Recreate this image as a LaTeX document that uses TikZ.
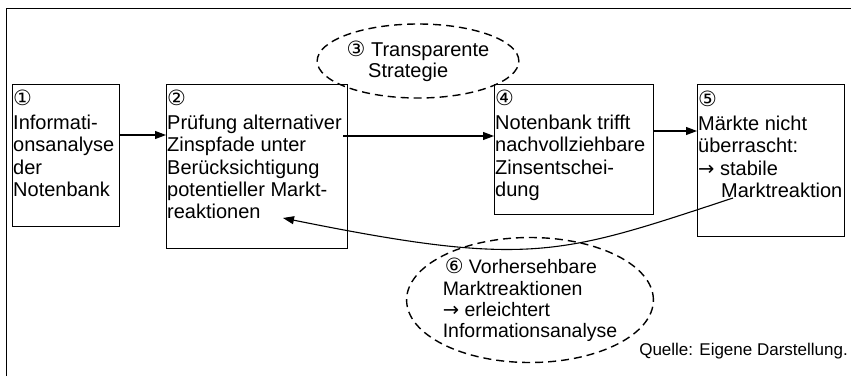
\documentclass[tikz,border=0pt]{standalone}
\usepackage{fontspec}
\setmainfont{Liberation Sans}
\newfontfamily\numfont{DejaVu Sans}
\usetikzlibrary{shapes.geometric,arrows.meta}
\newcommand{\cnum}[1]{{\numfont\fontsize{21}{21}\selectfont #1}}
\newcommand{\rarr}{{\numfont\fontsize{19.5}{19.5}\selectfont →}}
\begin{document}
\begin{tikzpicture}[x=1pt,y=-1pt,
  box/.style={draw, line width=1.1pt, inner sep=0pt, anchor=north west},
  txt/.style={anchor=north west, align=left, inner sep=0pt, font=\fontsize{20}{22.3}\selectfont},
  dashell/.style={draw, ellipse, dash pattern=on 8pt off 5pt, line width=1.4pt, inner sep=0pt, align=left},
  arr/.style={line width=1.1pt, -{Triangle[length=11pt,width=8pt]}},
]
\useasboundingbox (0,0) rectangle (851,376);
% outer frame (cropped at right and bottom)
\draw[line width=1.2pt] (6.5,376) -- (6.5,8.3) -- (851,8.3);

% boxes
\node[box, minimum width=107pt, minimum height=142pt] (b1) at (12,84) {};
\node[box, minimum width=181pt, minimum height=164pt] (b2) at (166,84) {};
\node[box, minimum width=159pt, minimum height=130pt] (b4) at (494,84) {};
\node[box, minimum width=147pt, minimum height=152pt] (b5) at (697,84) {};

% box texts
\node[txt] (t1) at ([shift={(1,5.5)}]b1.north west) {\cnum{①}\\[2pt]Informati-\\onsanalyse\\der\\Notenbank};
\node[txt] (t2) at ([shift={(1,5.5)}]b2.north west) {\cnum{②}\\[2pt]Prüfung alternativer\\Zinspfade unter\\Berücksichtigung\\potentieller Markt-\\reaktionen};
\node[txt] (t4) at ([shift={(1,5.5)}]b4.north west) {\cnum{④}\\[2pt]Notenbank trifft\\nachvollziehbare\\Zinsentschei-\\dung};
\node[txt] (t5) at ([shift={(1,6.5)}]b5.north west) {\cnum{⑤}\\[2pt]Märkte nicht\\überrascht:\\\rarr\ stabile\\\hspace*{23pt}Marktreaktion};

% ellipses
\node[dashell, minimum width=168pt, minimum height=74pt, font=\fontsize{20}{21}\selectfont] (e3) at (418,61)
  {\cnum{③} Transparente\\\hspace*{21.5pt}Strategie};
\node[dashell, minimum width=221pt, minimum height=125pt, font=\fontsize{19.5}{21.3}\selectfont] (e6) at (530,300)
  {\hspace*{2pt}\cnum{⑥} Vorhersehbare\\Marktreaktionen\\\rarr\ erleichtert\\Informationsanalyse};

% source
\node[anchor=base east, inner sep=0pt, font=\fontsize{17}{20}\selectfont] (q) at (848,355) {Quelle: Eigene Darstellung.};

% connectors
\draw[arr] ([shift={(0,51)}]b1.north east) -- ([shift={(0,51)}]b2.north west);
\draw[arr] ([shift={(-5,52)}]b2.north east) -- ([shift={(0,52)}]b4.north west);
\draw[arr] ([shift={(0,47)}]b4.north east) -- ([shift={(0,47)}]b5.north west);
\coordinate (c5) at ([shift={(36,114)}]b5.north west);
\coordinate (c2) at ([shift={(117,134)}]b2.north west);
\draw[arr] (c5) .. controls (560,255) and (530,268) .. (c2);
\end{tikzpicture}
\end{document}
